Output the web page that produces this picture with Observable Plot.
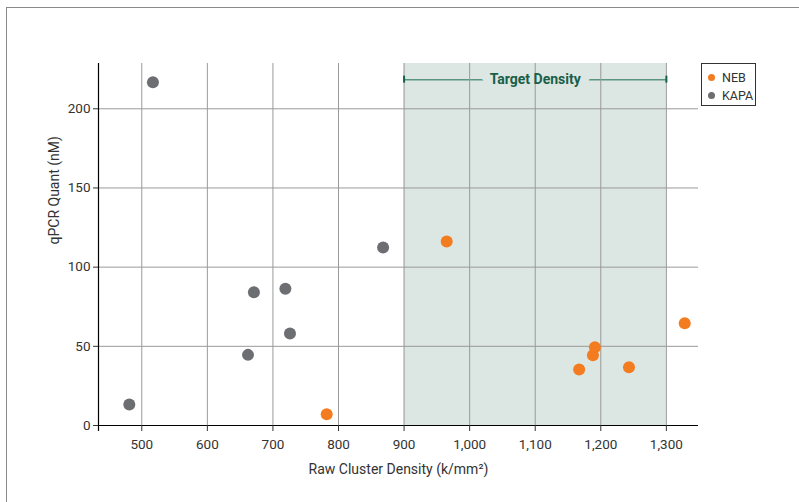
<!DOCTYPE html>
<html>
<head>
<meta charset="utf-8">
<script src="https://cdn.jsdelivr.net/npm/d3@7"></script>
<script src="https://cdn.jsdelivr.net/npm/@observablehq/plot@0.6"></script>
<style>
  html, body { margin: 0; padding: 0; background: #fff; width: 799px; height: 502px; overflow: hidden; }
  #wrap { position: relative; width: 799px; height: 502px; }
  #frame { position: absolute; left: 6px; top: 7px; width: 900px; height: 600px; border-left: 1px solid #8a8a8a; border-top: 1px solid #8a8a8a; }
  #legend { position: absolute; left: 701px; top: 63px; width: 53px; height: 41px; border: 1.5px solid #333; background: #fff;
    font-family: Roboto, sans-serif; font-size: 12.5px; color: #333; }
  .li { position: absolute; left: 6px; display: flex; align-items: center; }
  .li span.d { display: inline-block; width: 7px; height: 7px; border-radius: 50%; margin-right: 7px; }
  #chart { position: absolute; left: 0; top: 0; }
</style>
</head>
<body>
<div id="wrap">
  <div id="frame"></div>
  <div id="chart"></div>
  <div id="legend"></div>
</div>
<script>
// ---- data ----
const seriesNames = ["NEB", "KAPA"];
const seriesColors = ["#f47c20", "#6d6e71"];
const nebX = [782, 965, 1328, 1191, 1188, 1167, 1243];
const nebY = [7.1, 116.2, 64.6, 49.4, 44.4, 35.4, 36.8];
const kapaX = [517, 481, 671, 719, 726, 662, 868];
const kapaY = [216.7, 13.3, 84.2, 86.3, 58.1, 44.6, 112.4];
const xTicks = [500, 600, 700, 800, 900, 1000, 1100, 1200, 1300];
const yTicks = [0, 50, 100, 150, 200];
const xDomain = [434, 1349];
const yDomain = [0, 228.6];
const targetRange = [900, 1300];
const targetLabel = "Target Density";
const targetY = 218.4;
const xLabel = "Raw Cluster Density (k/mm²)";
const yLabel = "qPCR Quant (nM)";

const points = [
  ...kapaX.map((x, i) => ({x, y: kapaY[i], s: "KAPA"})),
  ...nebX.map((x, i) => ({x, y: nebY[i], s: "NEB"}))
];
const target = [{x1: targetRange[0], x2: targetRange[1], xm: (targetRange[0] + targetRange[1]) / 2, y: targetY, t: targetLabel}];
const shade = "#dce6e2";
const font = 'Roboto, sans-serif';

const chart = Plot.plot({
  width: 799,
  height: 502,
  marginLeft: 98,
  marginRight: 101,
  marginTop: 63,
  marginBottom: 77,
  style: {fontFamily: font, fontSize: "13.5px", color: "#333", background: "transparent"},
  x: {domain: xDomain},
  y: {domain: yDomain},
  color: {domain: seriesNames, range: seriesColors},
  marks: [
    Plot.rect(target, {x1: "x1", x2: "x2", fill: shade}),
    Plot.ruleY(target, {y: "y", x1: "x1", x2: "x2", stroke: "#5d9585", strokeWidth: 1.5}),
    Plot.text(target, {x: "xm", y: "y", text: "t", fill: shade, stroke: shade, strokeWidth: 18, fontWeight: "bold", fontSize: 14}),
    Plot.gridX(xTicks, {stroke: "#9a9a9a", strokeOpacity: 1}),
    Plot.gridY(yTicks, {stroke: "#9a9a9a", strokeOpacity: 1}),
    Plot.text(target, {x: "xm", y: "y", text: "t", fill: "#18604a", fontWeight: "bold", fontSize: 14}),
    Plot.ruleX(target.flatMap(d => [{x: d.x1, y: d.y}, {x: d.x2, y: d.y}]), {x: "x", y1: "y", y2: "y", insetTop: -3.5, insetBottom: -3.5, stroke: "#18604a", strokeWidth: 2}),
    Plot.ruleY([0], {stroke: "#000", strokeWidth: 1.2}),
    Plot.ruleX([xDomain[0]], {stroke: "#000", strokeWidth: 1.2, insetBottom: -6}),
    Plot.dot(points, {x: "x", y: "y", fill: "s", r: 6}),
    Plot.axisX({ticks: xTicks, tickFormat: d3.format(","), tickSize: 6, tickPadding: 8, label: null}),
    Plot.axisY({ticks: yTicks, tickSize: 5, tickPadding: 3, label: null}),
    Plot.text([xLabel], {frameAnchor: "bottom", dy: 44, lineAnchor: "middle", text: d => d, fontSize: 14, fill: "#333"}),
    Plot.text([yLabel], {frameAnchor: "left", dx: -44, rotate: -90, text: d => d, fontSize: 14, fill: "#333"})
  ]
});
document.getElementById("chart").appendChild(chart);

// legend
const leg = document.getElementById("legend");
seriesNames.forEach((n, i) => {
  const row = document.createElement("div");
  row.className = "li";
  row.style.top = (6 + i * 18) + "px";
  row.innerHTML = `<span class="d" style="background:${seriesColors[i]}"></span><span>${n}</span>`;
  leg.appendChild(row);
});
</script>
</body>
</html>
